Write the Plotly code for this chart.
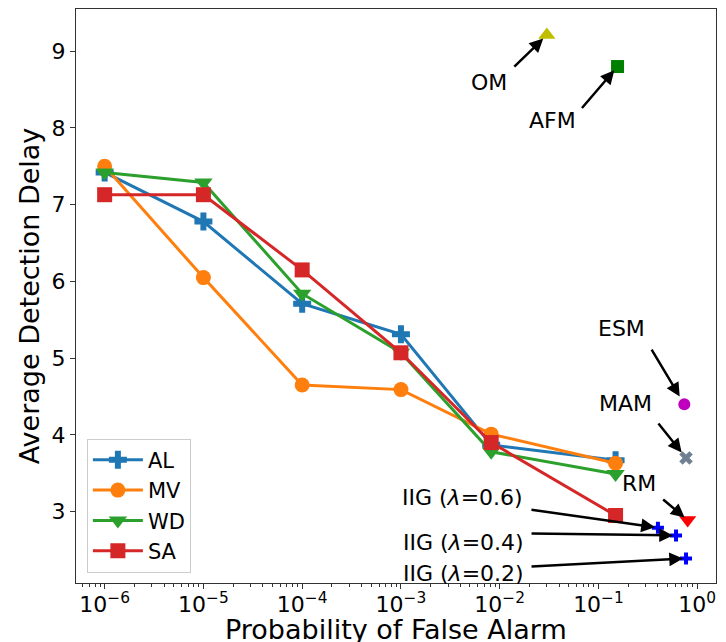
import numpy as np
import plotly.graph_objects as go

# ---- data ----
pfa = [1e-6, 1e-5, 1e-4, 1e-3, 8.2e-3, 0.149]
series_names = ["AL", "MV", "WD", "SA"]
al = [7.42, 6.78, 5.71, 5.31, 3.87, 3.67]
mv = [7.50, 6.05, 4.65, 4.59, 4.01, 3.63]
wd = [7.42, 7.29, 5.84, 5.07, 3.78, 3.49]
sa = [7.13, 7.13, 6.15, 5.07, 3.90, 2.95]

# single-point methods: name, pfa, delay
pt_names = ["OM", "AFM", "ESM", "MAM", "RM", "IIG (<i>λ</i>=0.6)", "IIG (<i>λ</i>=0.4)", "IIG (<i>λ</i>=0.2)"]
pt_pfa = [0.030, 0.156, 0.74, 0.77, 0.80, 0.40, 0.61, 0.77]
pt_delay = [9.21, 8.80, 4.40, 3.70, 2.89, 2.79, 2.69, 2.39]

xtick_vals = [1e-6, 1e-5, 1e-4, 1e-3, 1e-2, 1e-1, 1e0]
xtick_text = ["10<sup>−6</sup>", "10<sup>−5</sup>", "10<sup>−4</sup>", "10<sup>−3</sup>",
              "10<sup>−2</sup>", "10<sup>−1</sup>", "10<sup>0</sup>"]
ytick_vals = [3, 4, 5, 6, 7, 8, 9]
x_title = "Probability of False Alarm"
y_title = "Average Detection Delay"

# ---- styles ----
FONT = "DejaVu Sans"
colors = ["#1f77b4", "#ff7f0e", "#2ca02c", "#d62728"]
symbols = ["cross", "circle", "triangle-down", "square"]
msizes = [15, 15, 16, 15]

pt_colors = ["#bfbf00", "#008000", "#bf00bf", "slategray", "#ff0000", "#0000ff", "#0000ff", "#0000ff"]
pt_symbols = ["triangle-up", "square", "circle", "x", "triangle-down", "cross", "cross", "cross"]
pt_sizes = [15, 13, 12, 12, 15, 10, 10, 10]
# arrow tail offset (px), standoff (px), text offset (px) relative to the point
arrow_ax = [-33, -36, -33, -28, -25, -127, -145, -155]
arrow_ay = [32, 42, -55, -35, -21, -18, -2, 8]
arrow_standoff = [5, 5, 9, 7, 4, 3, 3, 3]
text_dx = [-58, -65, -63, -61, -49, -195, -213, -223]
text_dy = [-47, -54, 76, 54, 37, 30, -7, -15]

fig = go.Figure()
for name, ys, c, s, ms in zip(series_names, [al, mv, wd, sa], colors, symbols, msizes):
    fig.add_trace(go.Scatter(
        x=pfa, y=ys, name=name, mode="lines+markers",
        line=dict(color=c, width=3),
        marker=dict(symbol=s, size=ms, color=c),
    ))

for i in range(len(pt_names)):
    mk = dict(symbol=pt_symbols[i], size=pt_sizes[i], color=pt_colors[i])
    fig.add_trace(go.Scatter(
        x=[pt_pfa[i]], y=[pt_delay[i]], mode="markers", showlegend=False,
        marker=mk,
    ))

annotations = []
for i in range(len(pt_names)):
    lx = float(np.log10(pt_pfa[i]))
    annotations.append(dict(
        x=lx, y=pt_delay[i], xref="x", yref="y", text="",
        showarrow=True, ax=arrow_ax[i], ay=arrow_ay[i],
        arrowhead=2, arrowsize=1.1, arrowwidth=2.5, arrowcolor="black",
        standoff=arrow_standoff[i], borderpad=0,
    ))
    annotations.append(dict(
        x=lx, y=pt_delay[i], xref="x", yref="y", text=pt_names[i],
        showarrow=False, xanchor="center", yanchor="middle",
        xshift=text_dx[i], yshift=text_dy[i],
        font=dict(family=FONT, size=22, color="black"),
    ))

# x-axis title as a paper annotation so it can sit inside the bottom margin
annotations.append(dict(
    x=0.5, y=0, xref="paper", yref="paper", text=x_title, showarrow=False,
    xanchor="center", yanchor="middle", yshift=-46,
    font=dict(family=FONT, size=27, color="black"),
))

minor_vals = [k * 10.0 ** e for e in range(-7, 1) for k in range(2, 10)]

# page body has an 8px default margin, so the figure is sized to fit the 726x642 window
fig.update_layout(
    width=718, height=634,
    margin=dict(l=68, r=10, t=1, b=59),
    plot_bgcolor="white", paper_bgcolor="white",
    font=dict(family=FONT, color="black"),
    showlegend=True,
    legend=dict(
        x=0.017, y=0.018, xanchor="left", yanchor="bottom",
        bgcolor="white", bordercolor="#cccccc", borderwidth=1,
        font=dict(family=FONT, size=21), itemwidth=50, tracegroupgap=0,
        entrywidth=118, entrywidthmode="pixels",
    ),
    annotations=annotations,
    xaxis=dict(
        type="log", range=[-6.29, 0.19], automargin=False,
        tickmode="array", tickvals=xtick_vals, ticktext=xtick_text,
        ticks="outside", ticklen=5, tickwidth=1, tickcolor="#333333",
        ticklabelstandoff=-3,
        showline=True, linecolor="#333333", linewidth=1, mirror=True,
        showgrid=False, zeroline=False,
        tickfont=dict(family=FONT, size=22),
        minor=dict(tickmode="array", tickvals=minor_vals, ticks="outside",
                   ticklen=3, tickwidth=0.8, tickcolor="#333333", showgrid=False),
    ),
    yaxis=dict(
        range=[2.07, 9.55], automargin=False,
        tickmode="array", tickvals=ytick_vals,
        ticks="outside", ticklen=5, tickwidth=1, tickcolor="#333333",
        showline=True, linecolor="#333333", linewidth=1, mirror=True,
        showgrid=False, zeroline=False,
        tickfont=dict(family=FONT, size=22),
        title=dict(text=y_title, font=dict(family=FONT, size=27), standoff=4),
    ),
)

fig.write_html("out.html")
